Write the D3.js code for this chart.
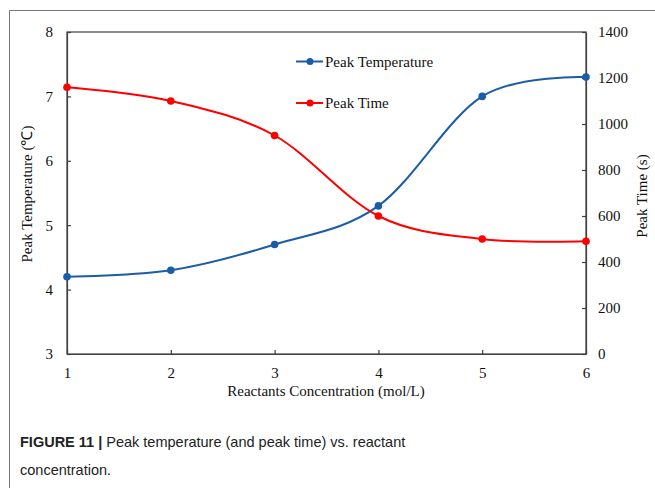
<!DOCTYPE html>
<html><head><meta charset="utf-8">
<script src="https://cdn.jsdelivr.net/npm/d3@7"></script>
<style>
html,body{margin:0;padding:0;background:#fff;}
svg{display:block;}
</style></head>
<body>
<svg id="c" width="655" height="488"></svg>
<script>
const concentrations = [1, 2, 3, 4, 5, 6];
const peakTemperature = [4.2, 4.3, 4.7, 5.3, 7.0, 7.3];
const peakTime = [1160, 1100, 950, 600, 500, 490];
const xTicks = [1, 2, 3, 4, 5, 6];
const leftTicks = [3, 4, 5, 6, 7, 8];
const rightTicks = [0, 200, 400, 600, 800, 1000, 1200, 1400];

const svg = d3.select("#c");
const L = 67, R = 586, T = 32, B = 354;
const serif = "'Liberation Serif','Times New Roman',serif";
const blue = "#1b5ca8", red = "#ff0000", axisCol = "#404040";
const fs = 15;

// outer frame
svg.append("path").attr("d", "M9.5,488 V10.5 H655").attr("fill", "none")
  .attr("stroke", "#777").attr("stroke-width", 1);

const x = d3.scaleLinear().domain([1, 6]).range([L, R]);
const yL = d3.scaleLinear().domain([3, 8]).range([B, T]);
const yR = d3.scaleLinear().domain([0, 1400]).range([B, T]);

// plot frame
svg.append("rect").attr("x", L).attr("y", T).attr("width", R - L).attr("height", B - T)
  .attr("fill", "none").attr("stroke", axisCol).attr("stroke-width", 1.2);

function styleAxis(g) {
  g.selectAll("path").attr("stroke", axisCol).attr("stroke-width", 1.2);
  g.selectAll("line").attr("stroke", axisCol).attr("stroke-width", 1.2);
  g.selectAll("text").attr("font-family", serif).attr("font-size", fs).attr("fill", "#111");
}
const gx = svg.append("g").attr("transform", `translate(0,${B})`)
  .call(d3.axisBottom(x).tickValues(xTicks).tickFormat(d3.format("d")).tickSizeInner(-4).tickSizeOuter(0).tickPadding(13));
styleAxis(gx);
const gl = svg.append("g").attr("transform", `translate(${L},0)`)
  .call(d3.axisLeft(yL).tickValues(leftTicks).tickFormat(d3.format("d")).tickSizeInner(-4).tickSizeOuter(0).tickPadding(14));
styleAxis(gl);
const gr = svg.append("g").attr("transform", `translate(${R},0)`)
  .call(d3.axisRight(yR).tickValues(rightTicks).tickFormat(d3.format("d")).tickSizeInner(-4).tickSizeOuter(0).tickPadding(12));
styleAxis(gr);

// axis titles
svg.append("text").attr("x", 326).attr("y", 396).attr("text-anchor", "middle")
  .attr("font-family", serif).attr("font-size", fs).attr("fill", "#111")
  .text("Reactants Concentration (mol/L)");
svg.append("text").attr("transform", "translate(32,194) rotate(-90)").attr("text-anchor", "middle")
  .attr("font-family", serif).attr("font-size", fs).attr("fill", "#111")
  .text("Peak Temperature (℃)");
svg.append("text").attr("transform", "translate(647,196) rotate(-90)").attr("text-anchor", "middle")
  .attr("font-family", serif).attr("font-size", fs).attr("fill", "#111")
  .text("Peak Time (s)");

// series
const series = [
  {name: "Peak Temperature", vals: peakTemperature, y: yL, color: blue},
  {name: "Peak Time", vals: peakTime, y: yR, color: red}
];
series.forEach(s => {
  const line = d3.line().x((d, i) => x(concentrations[i])).y(d => s.y(d)).curve(d3.curveCatmullRom.alpha(0));
  svg.append("path").datum(s.vals).attr("d", line).attr("fill", "none")
    .attr("stroke", s.color).attr("stroke-width", 2);
  svg.selectAll(null).data(s.vals).enter().append("circle")
    .attr("cx", (d, i) => x(concentrations[i])).attr("cy", d => s.y(d)).attr("r", 3.8)
    .attr("fill", s.color);
});

// legend
series.forEach((s, i) => {
  const ly = 61.5 + i * 41.5;
  svg.append("line").attr("x1", 296).attr("x2", 323).attr("y1", ly).attr("y2", ly)
    .attr("stroke", s.color).attr("stroke-width", 2);
  svg.append("circle").attr("cx", 310).attr("cy", ly).attr("r", 3.5).attr("fill", s.color);
  svg.append("text").attr("x", 325).attr("y", ly + 5).attr("font-family", serif)
    .attr("font-size", fs).attr("fill", "#111").text(s.name);
});

// caption
const sans = "'Liberation Sans', Arial, Helvetica, sans-serif";
const cap = svg.append("text").attr("x", 20).attr("y", 447).attr("font-family", sans)
  .attr("font-size", 14.5).attr("fill", "#222");
cap.append("tspan").attr("font-weight", "bold").text("FIGURE 11 | ");
cap.append("tspan").text("Peak temperature (and peak time) vs. reactant");
svg.append("text").attr("x", 20).attr("y", 475).attr("font-family", sans)
  .attr("font-size", 14.5).attr("fill", "#222").text("concentration.");
</script>
</body></html>
